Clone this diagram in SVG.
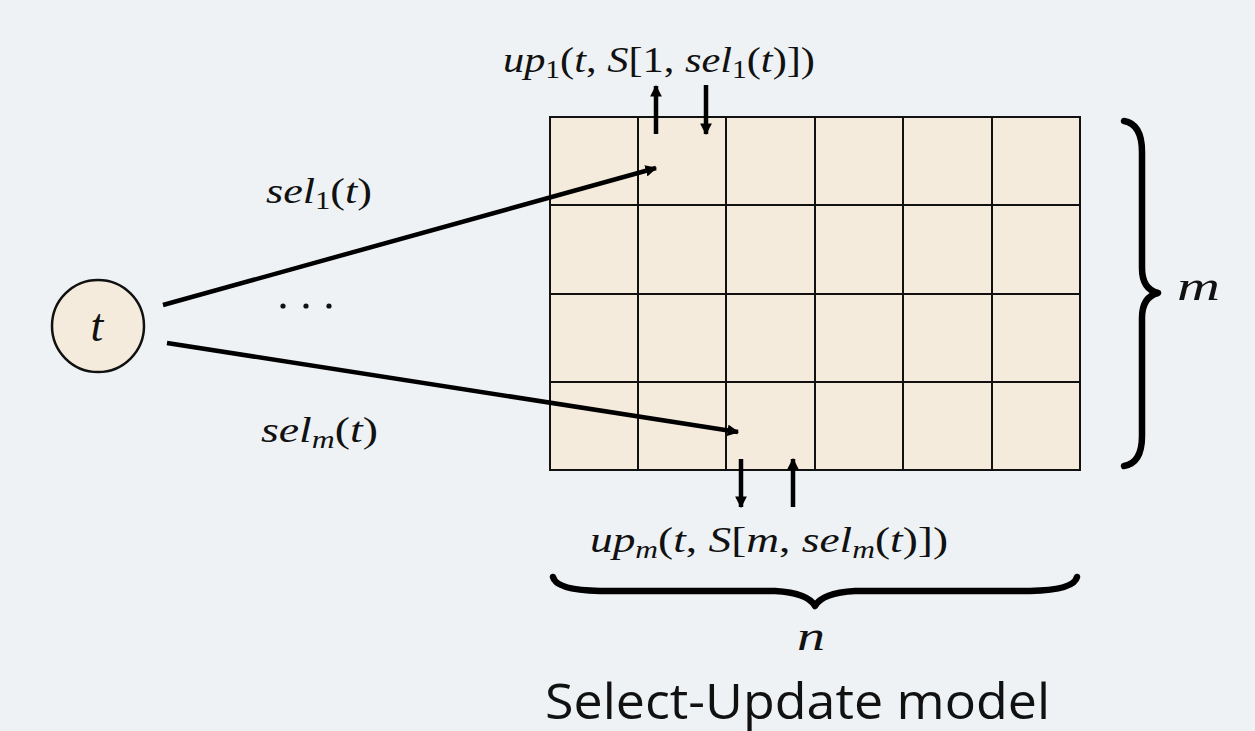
<svg xmlns="http://www.w3.org/2000/svg" width="1255" height="731" viewBox="0 0 1255 731">
<defs>
<style>
.bg{fill:#eef2f4}
.cell{fill:#f5ebdc;stroke:#111;stroke-width:2}
.m{font-family:"Liberation Serif","DejaVu Serif",serif;font-style:italic;fill:#111}
.r{font-style:normal}
.line{stroke:#000;stroke-width:4.5;fill:none}
.brace{stroke:#000;stroke-width:6.5;fill:none;stroke-linecap:round;stroke-linejoin:round}
.title{font-family:"Open Sans","DejaVu Sans",sans-serif;font-size:50px;fill:#111}
</style>
<marker id="ah" viewBox="0 0 10 10" refX="9" refY="5" markerWidth="2.6" markerHeight="2.6" orient="auto" markerUnits="strokeWidth">
<path d="M0,0 L10,5 L0,10 Z" fill="#000"/>
</marker>
</defs>
<rect class="bg" x="0" y="0" width="1255" height="731"/>
<g id="grid">
<rect class="cell" x="550" y="117" width="530" height="353"/>
<path d="M638,117V470M726,117V470M815,117V470M903,117V470M992,117V470M550,205H1080M550,294H1080M550,382H1080" stroke="#111" stroke-width="2" fill="none"/>
</g>
<g id="node-t">
<circle cx="98" cy="326" r="46" fill="#f5ebdc" stroke="#111" stroke-width="2.5"/>
<text class="m" x="97" y="341" font-size="46" text-anchor="middle">t</text>
</g>
<g id="connectors">
<line class="line" x1="163" y1="305" x2="656" y2="168" marker-end="url(#ah)"/>
<line class="line" x1="167" y1="343" x2="738" y2="432" marker-end="url(#ah)"/>
<line class="line" x1="656" y1="134" x2="656" y2="86" marker-end="url(#ah)"/>
<line class="line" x1="706" y1="85" x2="706" y2="134" marker-end="url(#ah)"/>
<line class="line" x1="741" y1="459" x2="741" y2="507" marker-end="url(#ah)"/>
<line class="line" x1="793" y1="507" x2="793" y2="459" marker-end="url(#ah)"/>
</g>
<g id="labels">
<text class="m" x="503" y="72" font-size="36" textLength="312" lengthAdjust="spacingAndGlyphs">up<tspan class="r" font-size="25" dy="6">1</tspan><tspan class="r" dy="-6">(</tspan>t<tspan class="r">, </tspan>S<tspan class="r">[1, </tspan>sel<tspan class="r" font-size="25" dy="6">1</tspan><tspan class="r" dy="-6">(</tspan>t<tspan class="r">)])</tspan></text>
<text class="m" x="590" y="552" font-size="36" textLength="358" lengthAdjust="spacingAndGlyphs">up<tspan font-size="25" dy="6">m</tspan><tspan class="r" dy="-6">(</tspan>t<tspan class="r">, </tspan>S<tspan class="r">[</tspan>m<tspan class="r">, </tspan>sel<tspan font-size="25" dy="6">m</tspan><tspan class="r" dy="-6">(</tspan>t<tspan class="r">)])</tspan></text>
<text class="m" x="266" y="203" font-size="36" textLength="106" lengthAdjust="spacingAndGlyphs">sel<tspan class="r" font-size="25" dy="6">1</tspan><tspan class="r" dy="-6">(</tspan>t<tspan class="r">)</tspan></text>
<text class="m" x="261" y="442" font-size="36" textLength="117" lengthAdjust="spacingAndGlyphs">sel<tspan font-size="25" dy="6">m</tspan><tspan class="r" dy="-6">(</tspan>t<tspan class="r">)</tspan></text>
<g fill="#111"><circle cx="283" cy="306" r="2.6"/><circle cx="306" cy="306" r="2.6"/><circle cx="329" cy="306" r="2.6"/></g>
<text class="m" x="1177" y="300" font-size="40" textLength="43" lengthAdjust="spacingAndGlyphs">m</text>
<text class="m" x="797" y="650" font-size="40" textLength="28" lengthAdjust="spacingAndGlyphs">n</text>
</g>
<g id="braces">
<path class="brace" d="M1124,121 Q1142,124 1142,152 L1142,268 Q1142,289 1158,293 Q1142,297 1142,318 L1142,436 Q1142,463 1124,466"/>
<path class="brace" d="M553,577 Q556,590 600,591 L775,591 Q808,593 815,606 Q822,593 855,591 L1030,591 Q1074,590 1077,577"/>
</g>
<text class="title" x="545" y="719" textLength="505" lengthAdjust="spacingAndGlyphs">Select-Update model</text>
</svg>
